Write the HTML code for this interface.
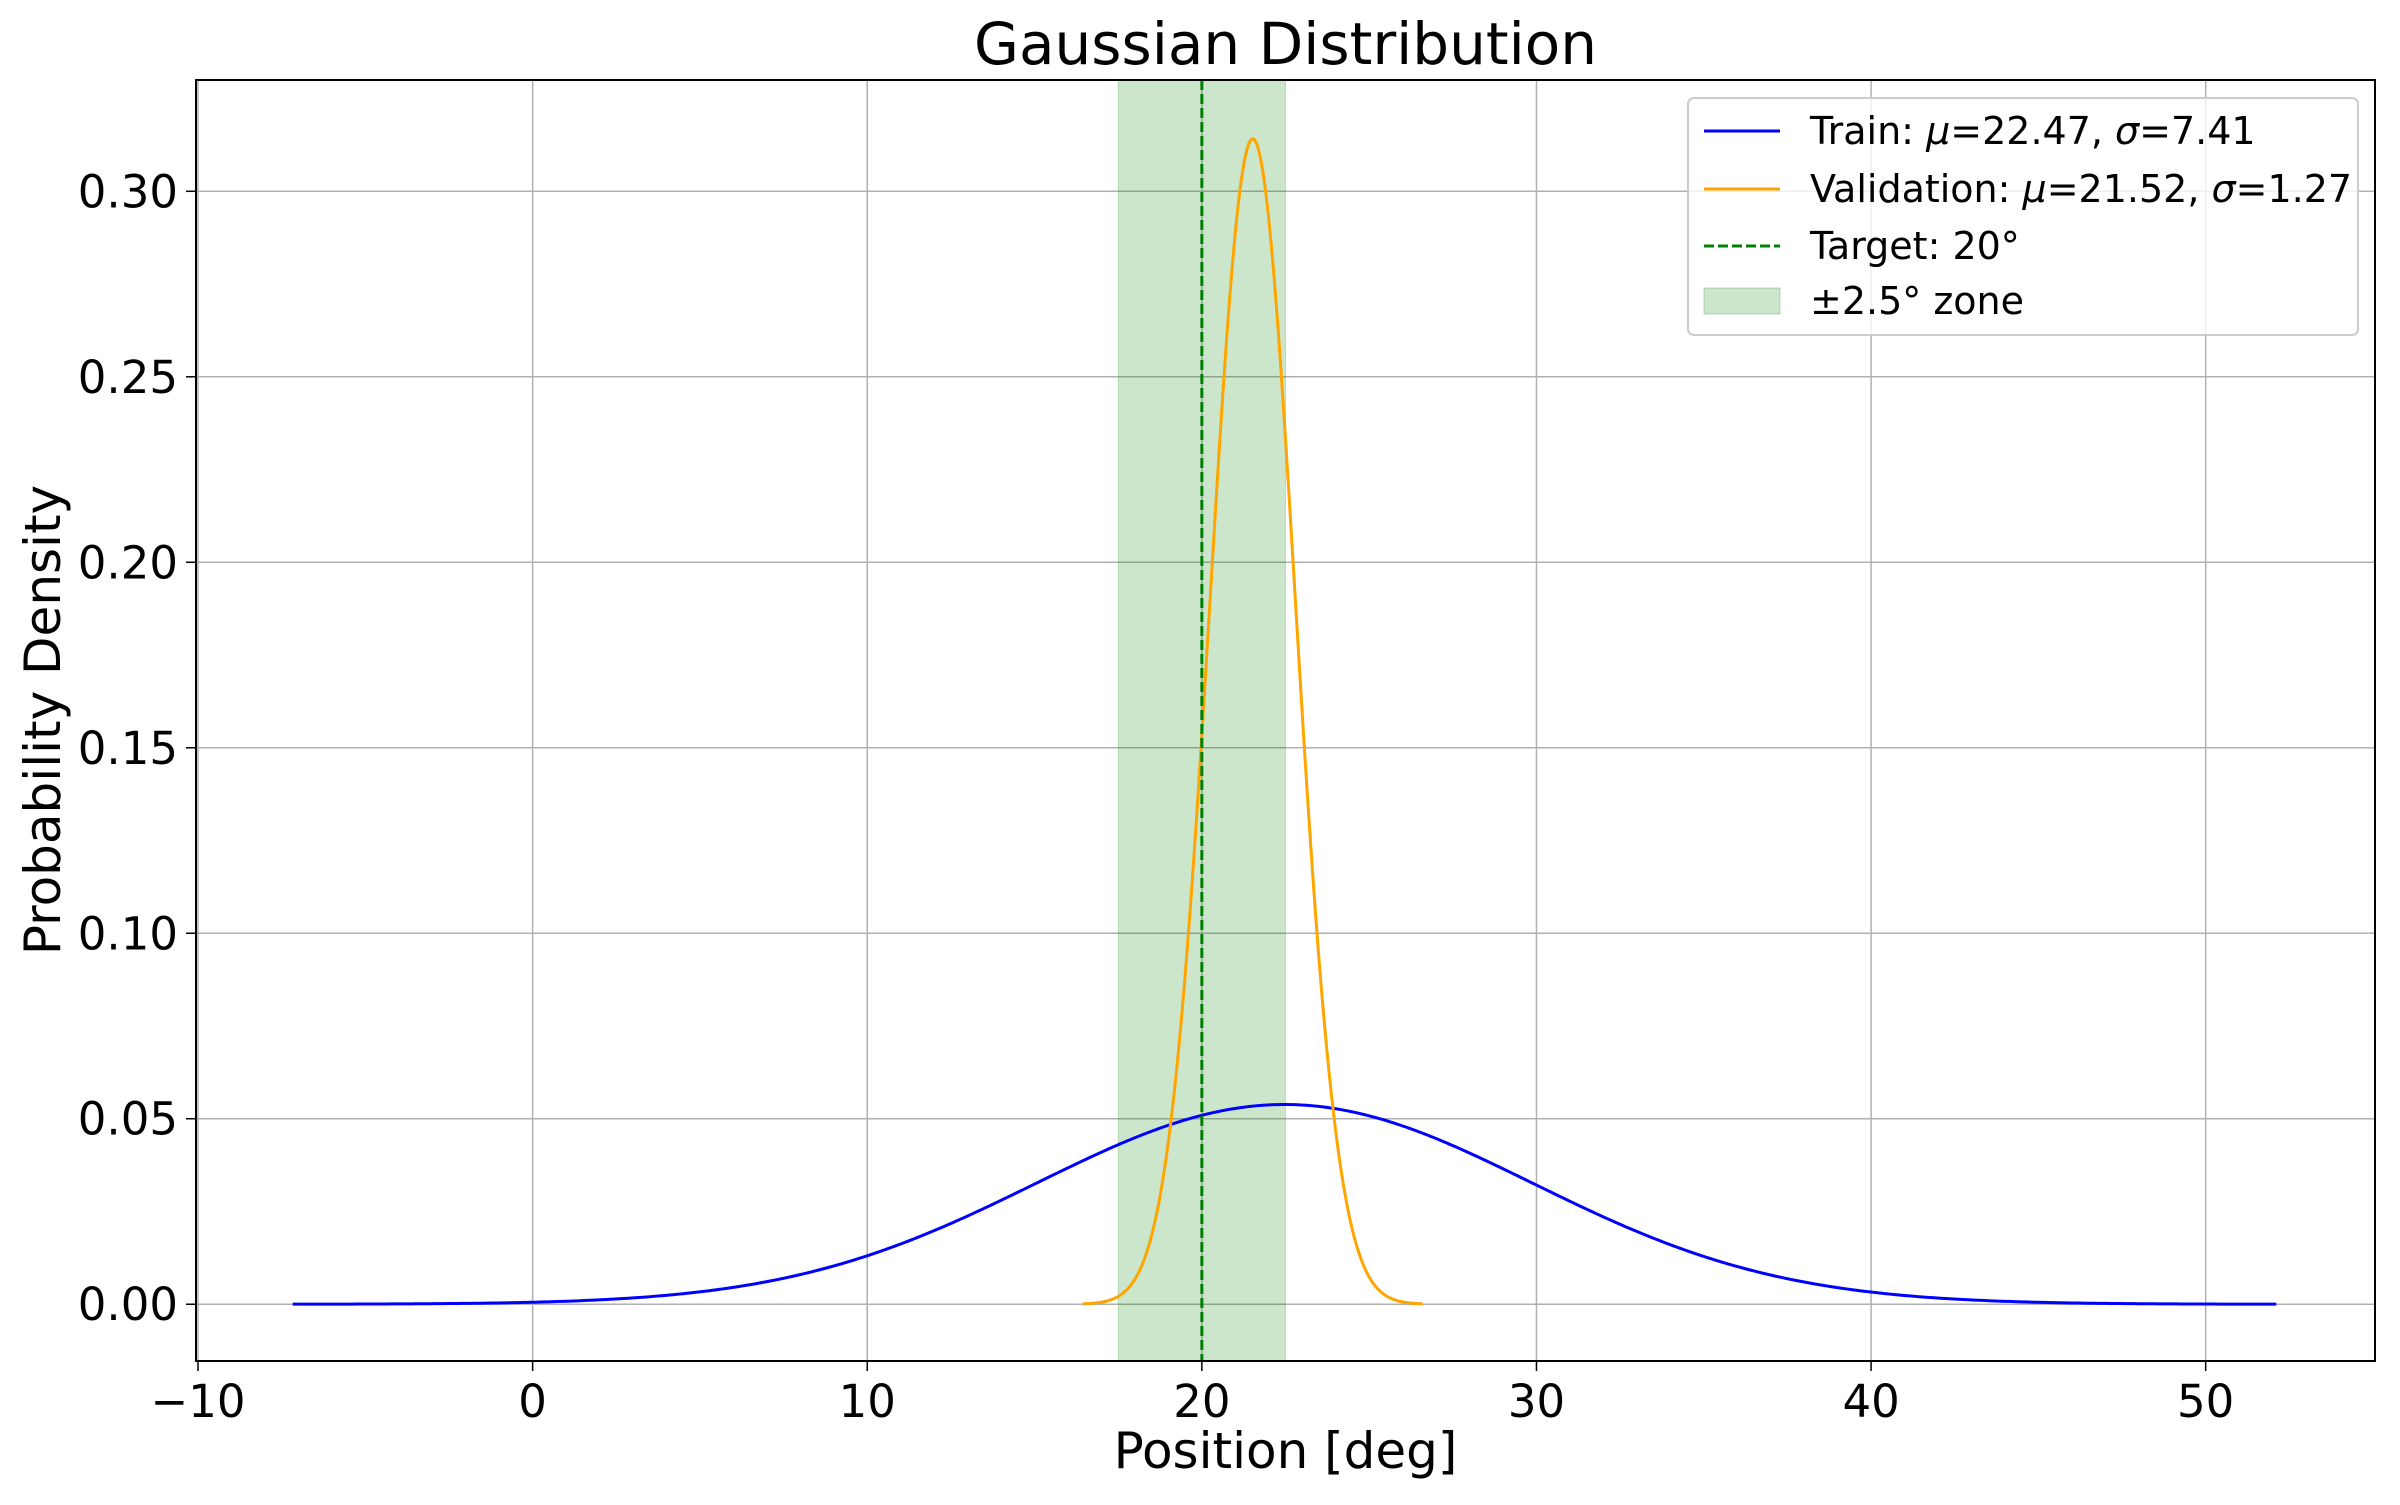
<!DOCTYPE html>
<html><head><meta charset="utf-8"><style>
html,body{margin:0;padding:0;background:#fff;}
svg text{font-family:"DejaVu Sans","Liberation Sans",sans-serif;fill:#000;}
</style></head><body>
<svg id="chart" width="2400" height="1500" viewBox="0 0 2400 1500" xmlns="http://www.w3.org/2000/svg">
<rect width="2400" height="1500" fill="#fff"/>
<g id="grid"></g>
<g id="marks"></g>
<rect x="196" y="80" width="2179" height="1281" fill="none" stroke="#000" stroke-width="2"/>
<g id="ticks"></g>
<text x="1285.5" y="64" font-size="58" text-anchor="middle">Gaussian Distribution</text>
<text x="1285.5" y="1468" font-size="50" text-anchor="middle">Position [deg]</text>
<text x="0" y="0" font-size="50" text-anchor="middle" transform="translate(60,720) rotate(-90)">Probability Density</text>
<g id="legend">
<rect x="1688" y="98" width="670" height="237" rx="6" fill="#fff" fill-opacity="0.8" stroke="#ccc" stroke-width="2"/>
<line x1="1704" y1="131" x2="1780" y2="131" stroke="#0000ff" stroke-width="3"/>
<text x="1810" y="144" font-size="38">Train: <tspan font-style="italic">μ</tspan>=22.47, <tspan font-style="italic">σ</tspan>=7.41</text>
<line x1="1704" y1="189" x2="1780" y2="189" stroke="#ffa500" stroke-width="3"/>
<text x="1810" y="202" font-size="38">Validation: <tspan font-style="italic">μ</tspan>=21.52, <tspan font-style="italic">σ</tspan>=1.27</text>
<line x1="1704" y1="246" x2="1780" y2="246" stroke="#008000" stroke-width="3" stroke-dasharray="10,4"/>
<text x="1810" y="259" font-size="38">Target: 20°</text>
<rect x="1704" y="288" width="76" height="26" fill="#008000" fill-opacity="0.2" stroke="#008000" stroke-opacity="0.25"/>
<text x="1810" y="314" font-size="38">±2.5° zone</text>
</g>
</svg>
<script>
const seriesNames = ["train", "validation"];
const seriesMu = [22.47, 21.52];
const seriesSigma = [7.41, 1.27];
const seriesColors = ["#0000ff", "#ffa500"];
const targetValue = [20];
const zoneHalfWidth = [2.5];
const xTicks = [-10, 0, 10, 20, 30, 40, 50];
const yTicks = [0.00, 0.05, 0.10, 0.15, 0.20, 0.25, 0.30];
const yTickLabels = ["0.00", "0.05", "0.10", "0.15", "0.20", "0.25", "0.30"];

const L=196,R=2375,T=80,B=1361;
const xmin=-10.06,xmax=55.06,ymin=-0.0153,ymax=0.330;
const X=v=>L+(v-xmin)/(xmax-xmin)*(R-L);
const Y=v=>B-(v-ymin)/(ymax-ymin)*(B-T);
const NS="http://www.w3.org/2000/svg";
function mk(tag,attrs,parent){const e=document.createElementNS(NS,tag);for(const k in attrs)e.setAttribute(k,attrs[k]);parent.appendChild(e);return e;}
const grid=document.getElementById('grid'),marks=document.getElementById('marks'),ticks=document.getElementById('ticks');
xTicks.forEach(v=>{
  const g=mk('line',{x1:X(v),x2:X(v),y1:T,y2:B,stroke:'#b0b0b0','stroke-width':1.5},grid);
  
  
  const t=mk('line',{x1:X(v),x2:X(v),y1:B,y2:B+10,stroke:'#000','stroke-width':1.5},ticks);
  
  
  const l=mk('text',{x:X(v),y:B+56,'font-size':45,'text-anchor':'middle'},ticks);
  l.textContent=v<0?'\u2212'+Math.abs(v):String(v);
  
  
});
yTicks.forEach((v,i)=>{
  const g=mk('line',{x1:L,x2:R,y1:Y(v),y2:Y(v),stroke:'#b0b0b0','stroke-width':1.5},grid);
  
  
  const t=mk('line',{x1:L-10,x2:L,y1:Y(v),y2:Y(v),stroke:'#000','stroke-width':1.5},ticks);
  
  
  const l=mk('text',{x:L-18,y:Y(v)+16,'font-size':45,'text-anchor':'end'},ticks);
  l.textContent=yTickLabels[i];
  
  
});
const zone=mk('rect',{x:X(targetValue[0]-zoneHalfWidth[0]),y:T,width:X(targetValue[0]+zoneHalfWidth[0])-X(targetValue[0]-zoneHalfWidth[0]),height:B-T,fill:'#008000','fill-opacity':0.2,stroke:'#008000','stroke-opacity':0.2},marks);


seriesMu.forEach((mu,i)=>{
  const s=seriesSigma[i];let d='';const n=600;
  for(let k=0;k<=n;k++){const x=mu-4*s+8*s*k/n;const y=Math.exp(-0.5*((x-mu)/s)**2)/(s*Math.sqrt(2*Math.PI));d+=(k?'L':'M')+X(x).toFixed(2)+' '+Y(y).toFixed(2);}
  const p=mk('path',{d:d,fill:'none',stroke:seriesColors[i],'stroke-width':3},marks);
  
  
});
const tl=mk('line',{x1:X(targetValue[0]),x2:X(targetValue[0]),y1:T,y2:B,stroke:'#008000','stroke-width':3,'stroke-dasharray':'10,4'},marks);


</script>
</body></html>
